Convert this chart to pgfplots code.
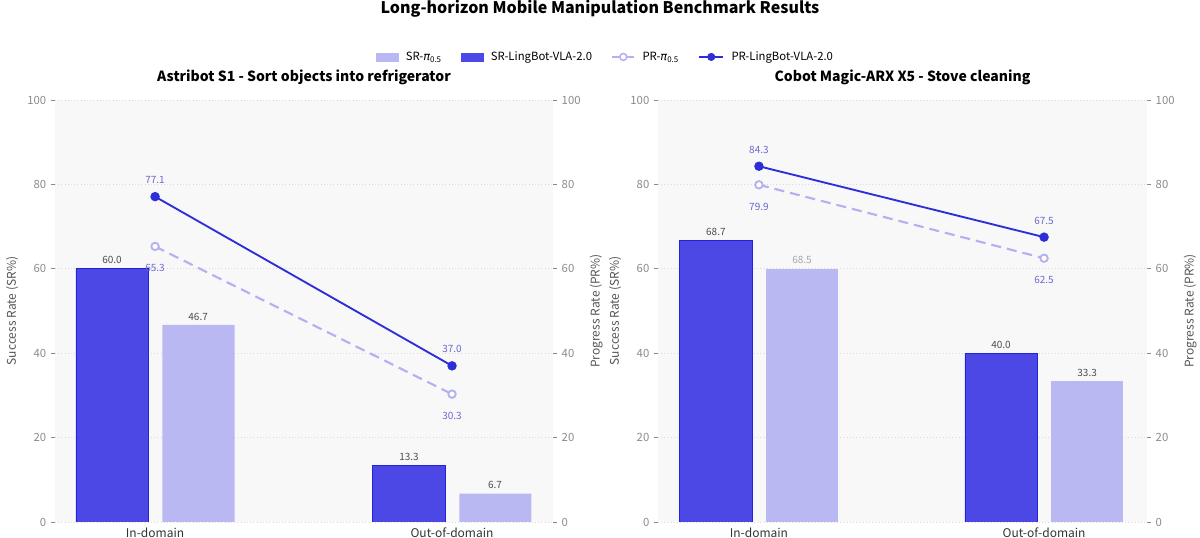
\documentclass[border=0pt]{standalone}
\usepackage{fontspec}
\setmainfont{Noto Sans CJK SC}
\newfontfamily\dejavu{DejaVu Sans}
\usepackage{pgfplots}
\pgfplotsset{compat=1.18}
\definecolor{darkbar}{HTML}{4B48E6}
\definecolor{darkedge}{HTML}{2222DD}
\definecolor{lightbar}{HTML}{BAB8F3}
\definecolor{darkline}{HTML}{2E2ED9}
\definecolor{lightline}{HTML}{B4B1F0}
\definecolor{prtext}{HTML}{6B68D0}
\definecolor{tickgray}{HTML}{8A8A8A}
\definecolor{labgray}{HTML}{555555}
\definecolor{bg}{HTML}{F8F8F8}
\definecolor{gridc}{HTML}{DADADA}
\newcommand{\pisub}{{\dejavu\itshape π}\textsubscript{0.5}}

\pgfplotsset{
 base/.style={
   scale only axis, height=316.5pt,
   anchor=south west,
   ymin=0, ymax=100,
   ytick={0,20,...,100},
   axis line style={draw=none},
   tick align=outside, major tick length=3pt,
   ytick style={tickgray, line width=0.6pt},
   xtick style={draw=none},
   ticklabel style={font=\fontsize{8.5}{10}\selectfont},
   yticklabel style={tickgray},
   ylabel style={font=\fontsize{9}{11}\selectfont, labgray},
   /pgf/number format/assume math mode=true,
 },
 bars/.style={
   base,
   axis background/.style={fill=bg},
   ymajorgrids, grid style={gridc, dotted, line width=0.5pt},
   xtick={0,1}, xticklabels={In-domain,Out-of-domain},
   xticklabel style={font=\fontsize{9}{11}\selectfont, color=black!80, yshift=2pt},
   ylabel={Success Rate (SR\%)},
   title style={at={(0.5,1)}, anchor=center, yshift=11.25pt, font=\bfseries\fontsize{10.5}{12}\selectfont},
 },
 lines/.style={
   base,
   axis y line*=right, axis x line=none,
   ylabel={Progress Rate (PR\%)},
 },
 darkb/.style 2 args={ybar, bar width=#1, bar shift=-#2, fill=darkbar, draw=darkedge, line width=0.6pt,
   point meta=explicit symbolic, nodes near coords,
   every node near coord/.append style={xshift=-32.3pt, font=\fontsize{7.5}{9}\selectfont, color=black!70}},
 lightb/.style 2 args={ybar, bar width=#1, bar shift=#2, fill=lightbar, draw=none,
   point meta=explicit symbolic, nodes near coords,
   every node near coord/.append style={xshift=32.3pt, font=\fontsize{7.5}{9}\selectfont, color=black!70}},
 darkl/.style={darkline, line width=1.4pt, mark=*, mark size=2.8pt, mark options={fill=darkline, solid},
   point meta=explicit symbolic, nodes near coords,
   every node near coord/.append style={anchor=center, yshift=12.5pt, font=\fontsize{7.5}{9}\selectfont, color=prtext}},
 lightl/.style={lightline, line width=1.6pt, dash pattern=on 7.5pt off 4.5pt, mark=*, mark size=2.8pt,
   mark options={fill=white, solid, line width=1.4pt},
   point meta=explicit symbolic, nodes near coords,
   every node near coord/.append style={anchor=center, yshift=-16.5pt, font=\fontsize{7.5}{9}\selectfont, color=prtext}},
}

\begin{document}
\begin{tikzpicture}
\useasboundingbox (0,0) rectangle (900pt,403.5pt);
\node[font=\bfseries\fontsize{12}{14}\selectfont] at (450pt,397pt) {Long-horizon Mobile Manipulation Benchmark Results};

% ---- Left subplot
\begin{axis}[bars, width=373.5pt, xmin=-0.337, xmax=1.34, at={(41.25pt,12pt)}, title={Astribot S1 - Sort objects into refrigerator}]
\addplot[darkb={0.243}{0.145}] coordinates {(0,60.0) [60.0] (1,13.3) [13.3]};
\addplot[lightb={0.243}{0.146}] coordinates {(0,46.7) [46.7] (1,6.7) [6.7]};
\end{axis}
\begin{axis}[lines, width=373.5pt, xmin=-0.337, xmax=1.34, at={(41.25pt,12pt)},
  legend style={at={(1.106,1.102)}, anchor=center, legend columns=4, draw=none, fill=none,
    font=\fontsize{8.5}{10}\selectfont,
    /tikz/every odd column/.append style={column sep=3.5pt},
    /tikz/every even column/.append style={column sep=12.5pt}},
  legend cell align=left]
\addlegendimage{legend image code/.code={\fill[lightbar] (0pt,-3pt) rectangle (16.5pt,3pt);}}
\addlegendentry{SR-\pisub}
\addlegendimage{legend image code/.code={\fill[darkbar] (0pt,-3pt) rectangle (16.5pt,3pt);}}
\addlegendentry{SR-LingBot-VLA-2.0}
\addlegendimage{legend image code/.code={\draw[lightline, line width=1.4pt] (0pt,0pt) -- (16.5pt,0pt); \draw[lightline, line width=1.2pt, fill=white] (8.25pt,0pt) circle (2.6pt);}}
\addlegendentry{PR-\pisub}
\addlegendimage{legend image code/.code={\draw[darkline, line width=1.4pt] (0pt,0pt) -- (18pt,0pt); \fill[darkline] (9pt,0pt) circle (2.8pt);}}
\addlegendentry{PR-LingBot-VLA-2.0}
\addplot[lightl, forget plot] coordinates {(0,65.3) [65.3] (1,30.3) [30.3]};
\addplot[darkl, forget plot] coordinates {(0,77.1) [77.1] (1,37.0) [37.0]};
\end{axis}

% ---- Right subplot
\begin{axis}[bars, width=366.75pt, xmin=-0.354, xmax=1.361, at={(493.5pt,12pt)}, title={Cobot Magic-ARX X5 - Stove cleaning}]
\addplot[darkb={0.253}{0.151}] coordinates {(0,66.7) [68.7] (1,40.0) [40.0]};
\addplot[lightb={0.253}{0.151}, every node near coord/.append style={color=black!35}] coordinates {(0,60.0) [68.5]};
\addplot[lightb={0.253}{0.151}] coordinates {(1,33.3) [33.3]};
\end{axis}
\begin{axis}[lines, width=366.75pt, xmin=-0.354, xmax=1.361, at={(493.5pt,12pt)}]
\addplot[lightl] coordinates {(0,79.9) [79.9] (1,62.5) [62.5]};
\addplot[darkl] coordinates {(0,84.3) [84.3] (1,67.5) [67.5]};
\end{axis}
\end{tikzpicture}
\end{document}
